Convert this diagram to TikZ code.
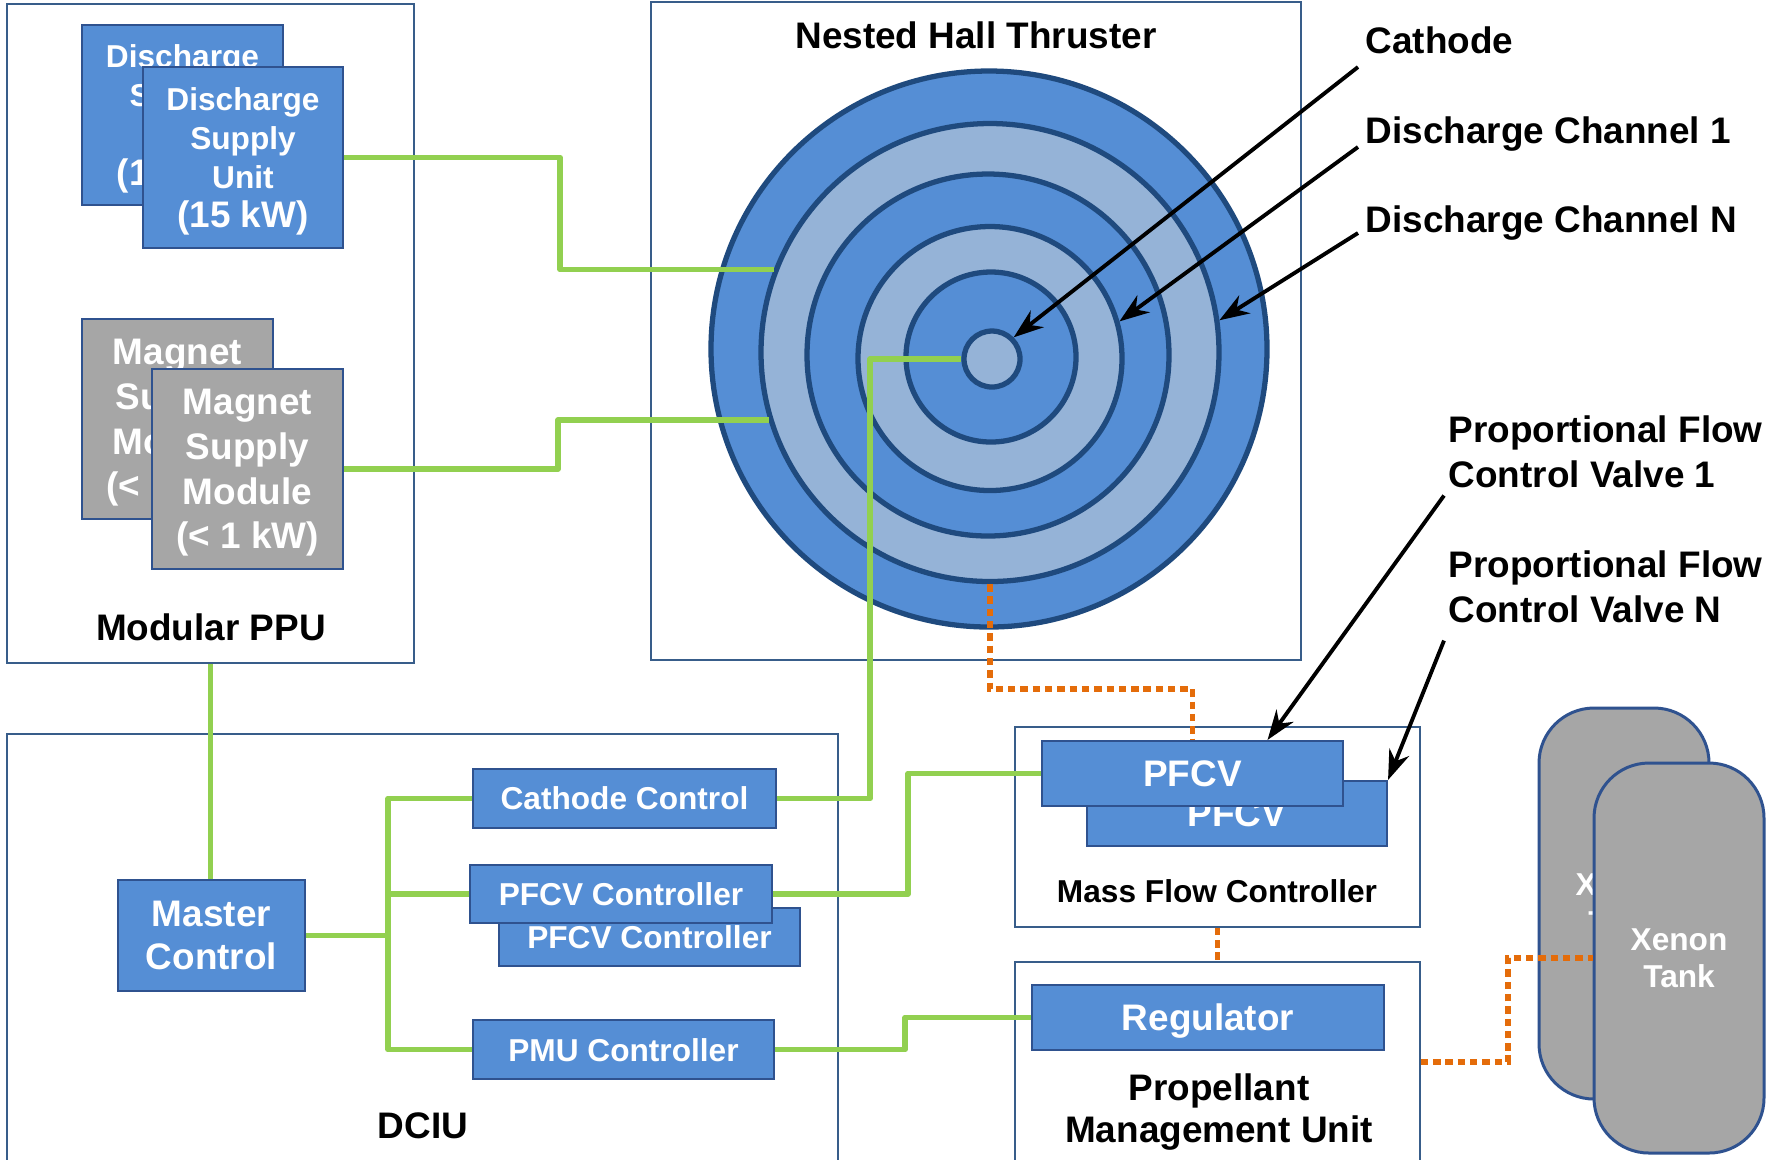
\documentclass[tikz,border=0pt]{standalone}
\usepackage{fontspec}
\setmainfont{Liberation Sans}
\usetikzlibrary{arrows.meta,positioning}

\definecolor{unitblue}{HTML}{558ED5}
\definecolor{chanblue}{HTML}{95B3D7}
\definecolor{edgeblue}{HTML}{2F528F}
\definecolor{ringedge}{HTML}{1F4A7E}
\definecolor{framecol}{HTML}{385D8A}
\definecolor{modgray}{HTML}{A6A6A6}
\definecolor{wiregreen}{HTML}{92D050}
\definecolor{feedorange}{HTML}{E46C0A}
\newcommand\fsmall{\fontsize{9}{11.1}\selectfont\bfseries}
\newcommand\fbig{\fontsize{10.5}{12.6}\selectfont\bfseries}
\newcommand\kwline[1]{{\fontsize{10.5}{12}\selectfont #1}}

\tikzset{
  sz/.style 2 args={minimum width=#1*0.01cm, minimum height=#2*0.01cm},
  frame/.style={draw=framecol, line width=0.45pt, inner sep=0pt},
  unit/.style={draw=edgeblue, line width=0.6pt, fill=unitblue, text=white, align=center, inner sep=0pt, text depth=0pt, font=\fsmall},
  modbox/.style={unit, fill=modgray, font=\fontsize{10.5}{12.7}\selectfont\bfseries},
  tank/.style={unit, fill=modgray, line width=0.85pt, rounded corners=0.55cm, font=\fontsize{9}{10.6}\selectfont\bfseries},
  ring/.style={circle, draw=ringedge, line width=1.5pt, inner sep=0pt},
  wire/.style={draw=wiregreen, line width=1.6pt, line join=round},
  feed/.style={draw=feedorange, line width=1.6pt, dash pattern=on 2.1pt off 1.4pt},
  pointer/.style={draw=black, line width=1.1pt, -{Stealth[length=8.5pt,width=6pt]}},
  lbl/.style={font=\fbig, inner sep=0pt}
}

\begin{document}
\begin{tikzpicture}[x=0.01cm, y=-0.01cm]
\path[use as bounding box, fill=white] (0,0) rectangle (1779,1159);

\node[frame, sz={407}{659}] (ppu) at (210.5,333.5) {};
\node[frame, sz={650}{658}] (nht) at (976,331) {};
\node[frame, sz={831}{436}] (dciu) at (422.5,952) {};
\node[frame, sz={405}{200}] (mfc) at (1217.5,827) {};
\node[frame, sz={405}{200}] (pmu) at (1217.5,1062) {};

\node[lbl, anchor=base] (lnht) at (976,48) {Nested Hall Thruster};
\node[lbl, anchor=base] (lppu) at (211,640) {Modular PPU};
\node[lbl, anchor=base] (ldciu) at (423,1138) {DCIU};
\node[lbl, font=\fsmall, anchor=base] (lmfc) at (1217,902) {Mass Flow Controller};
\node[lbl, align=center, font=\fontsize{10.5}{12.2}\selectfont\bfseries] (lpmu) at (1219,1112) {Propellant\\Management Unit};

\node[lbl, anchor=base west] (lcat) at (1365,53) {Cathode};
\node[lbl, anchor=base west] (lch1) at (1365,143) {Discharge Channel 1};
\node[lbl, anchor=base west] (lchn) at (1365,232) {Discharge Channel N};
\node[lbl, align=left, anchor=north west, font=\fontsize{10.5}{12.8}\selectfont\bfseries] (lpf1) at (1448,415) {Proportional Flow\\Control Valve 1};
\node[lbl, align=left, anchor=north west, font=\fontsize{10.5}{12.8}\selectfont\bfseries] (lpfn) at (1448,550) {Proportional Flow\\Control Valve N};

\foreach \n/\cx/\cy/\r/\c in {1/989/349/278/unitblue,2/990/352.5/229/chanblue,3/988/355/181/unitblue,4/990/358.5/132/chanblue,5/991/357/85/unitblue,6/992/359/28/chanblue}
  \node[ring, fill=\c, minimum size=2*\r*0.01cm] (th\n) at (\cx,\cy) {};

\node[unit, sz={201}{180}] (dsu0) at (182.5,115) {Discharge\\Supply\\Unit\\\kwline{(15 kW)}};
\node[unit, sz={200}{181}] (dsu) at (243,157.5) {Discharge\\Supply\\Unit\\\kwline{(15 kW)}};
\node[modbox, sz={191}{200}] (msm0) at (177.5,419) {Magnet\\Supply\\Module\\(< 1 kW)};
\node[modbox, sz={191}{200}] (msm) at (247.5,469) {Magnet\\Supply\\Module\\(< 1 kW)};

\node[unit, font=\fontsize{10.5}{12.2}\selectfont\bfseries, sz={187}{111}] (mc) at (211.5,935.5) {Master\\Control};
\node[unit, sz={303}{59}] (cc) at (624.5,798.5) {Cathode Control};
\node[unit, sz={301}{58}] (pfc0) at (649.5,937) {PFCV Controller};
\node[unit, sz={302}{58}] (pfc) at (621,894) {PFCV Controller};
\node[unit, sz={301}{59}] (pmuc) at (623.5,1049.5) {PMU Controller};

\node[unit, font=\fbig, sz={300}{65}] (pfcv0) at (1237,813.5) {PFCV};
\node[unit, font=\fbig, sz={301}{65}] (pfcv) at (1192.5,773.5) {PFCV};
\node[unit, font=\fbig, sz={352}{65}] (reg) at (1208,1017.5) {Regulator};

\node[tank, sz={170}{391}] (xt0) at (1624,903.5) {Xenon\\Tank};
\node[tank, sz={170}{390}] (xt) at (1679,958) {Xenon\\Tank};

\coordinate (bus) at (388,935.5);
\draw[wire] (dsu.east) -- ++(216,0) |- (th2.159);
\draw[wire] (msm.east) -- ++(214,0) |- (th2.197);
\draw[wire] (cc.east) -- ++(93,0) |- (th6.west);
\draw[wire] (pfc.east) -- ++(135,0) |- (pfcv.west);
\draw[wire] (pmuc.east) -- ++(130,0) |- (reg.west);
\draw[wire] (ppu.south) -- (ppu.south |- mc.north);
\draw[wire] (mc.east) -- (bus);
\draw[wire] (cc.west) -| (bus) |- (pmuc.west);
\draw[wire] (bus |- pfc.west) -- (pfc.west);

\draw[feed] (th2.south) -- ++(0,105) -| (pfcv.north);
\draw[feed] (mfc.south) -- (pmu.north);
\draw[feed] (pmu.east) -- ++(87,0) |- (xt.west);

\draw[pointer] ([shift={(-7,14)}]lcat.base west) -- (th6.north east);
\draw[pointer] ([shift={(-7,4)}]lch1.base west) -- (th4.16);
\draw[pointer] ([shift={(-7,1)}]lchn.base west) -- (th2.8);
\draw[pointer] ([shift={(-4,7)}]lpf1.south west) -- ([shift={(75,0)}]pfcv.north);
\draw[pointer] ([shift={(-4,17)}]lpfn.south west) -- (pfcv0.north east);
\end{tikzpicture}
\end{document}
